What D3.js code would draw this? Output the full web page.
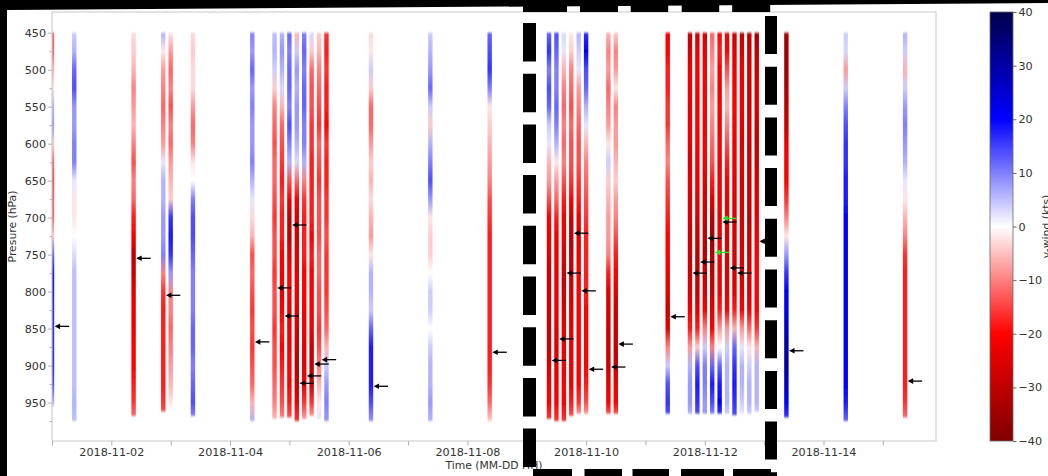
<!DOCTYPE html>
<html>
<head>
<meta charset="utf-8">
<script src="https://cdn.jsdelivr.net/npm/d3@7"></script>
<style>
  body { margin: 0; background: #000; }
  svg { display: block; font-family: "DejaVu Sans", sans-serif; }
</style>
</head>
<body>
<svg id="fig" width="1048" height="476"></svg>
<script>
// ---- data ----
const pressureLevels = [450, 475, 500, 525, 550, 575, 600, 625, 650, 675, 700, 725, 750, 775, 800, 825, 850, 875, 900, 925, 950, 975];

const soundingTime = [
  "2018-11-01T00:00Z", "2018-11-01T09:00Z", "2018-11-02T09:00Z", "2018-11-02T21:00Z", "2018-11-03T00:00Z",
  "2018-11-03T09:00Z", "2018-11-04T09:00Z",
  "2018-11-04T18:00Z", "2018-11-04T21:00Z", "2018-11-05T00:00Z", "2018-11-05T03:00Z", "2018-11-05T06:00Z",
  "2018-11-05T09:00Z", "2018-11-05T12:00Z", "2018-11-05T15:00Z",
  "2018-11-06T09:00Z", "2018-11-07T09:00Z", "2018-11-08T09:00Z",
  "2018-11-09T09:00Z", "2018-11-09T12:00Z", "2018-11-09T15:00Z", "2018-11-09T18:00Z", "2018-11-09T21:00Z",
  "2018-11-10T00:00Z", "2018-11-10T09:00Z", "2018-11-10T12:00Z",
  "2018-11-11T09:00Z", "2018-11-11T18:00Z", "2018-11-11T21:00Z", "2018-11-12T00:00Z", "2018-11-12T03:00Z",
  "2018-11-12T06:00Z", "2018-11-12T09:00Z", "2018-11-12T12:00Z", "2018-11-12T15:00Z", "2018-11-12T18:00Z",
  "2018-11-12T21:00Z",
  "2018-11-13T09:00Z", "2018-11-14T09:00Z", "2018-11-15T09:00Z"
];

// lowest pressure level reached by each sounding (hPa)
const soundingBottom = [955, 975, 968, 962, 960, 968, 975, 972, 970, 970, 975, 972, 968, 972, 975,
  975, 975, 975, 972, 975, 975, 968, 965, 965, 965, 965,
  965, 965, 965, 965, 965, 965, 965, 967, 965, 965, 962, 970, 975, 970];

// v-wind (kts) at each pressure level, one row per sounding
const vWind = [
  [-12, -12, -6, -2, 6, 8, -4, -12, -14, -12, -12, -4, 12, 18, 18, 16, 16, 16, 16, 14, 6, 4],
  [4, 6, 12, 14, 8, 8, 10, 10, 2, -2, -2, 0, 3, 5, 5, 5, 5, 5, 5, 5, 6, 5],
  [-3, -4, -6, -10, -8, -6, -10, -14, -10, -12, -18, -20, -30, -28, -24, -22, -22, -20, -20, -18, -16, -12],
  [6, -2, -8, -10, -12, -10, -8, 2, 6, 6, 8, 8, 10, -10, -16, -18, -18, -18, -18, -18, -16, -14],
  [-2, -8, -12, -10, -14, -10, -12, -8, -6, -4, 16, 18, 16, 8, -10, -10, -12, -10, -8, -6, -2, 0],
  [-3, -4, -3, -3, -8, -12, -10, -2, 0, 10, 14, 14, 12, 10, 10, 10, 12, 12, 10, 12, 14, 10],
  [10, 8, 12, 8, 10, 8, 8, 10, 6, 2, -3, -6, -14, -12, -14, -16, -14, -16, -14, -12, -6, 6],
  [5, 6, 4, -4, -10, -12, -14, -12, -12, -14, -16, -14, -14, -16, -14, -14, -16, -14, -14, -12, -10, -6],
  [6, 8, 6, 3, -6, -12, -14, -16, -18, -16, -18, -18, -20, -22, -24, -20, -18, -20, -18, -16, -14, -10],
  [12, 10, 12, 12, 10, 14, 10, 6, -14, -22, -30, -30, -24, -20, -20, -24, -22, -22, -20, -20, -18, -14],
  [-6, 4, 8, 6, 8, 8, 6, 3, -12, -20, -24, -26, -24, -24, -22, -24, -26, -28, -30, -28, -22, -16],
  [10, 12, 10, 12, 12, 10, 10, 6, -10, -16, -18, -18, -18, -20, -20, -22, -22, -24, -24, -22, -16, -8],
  [3, -4, -12, -14, -14, -16, -16, -18, -18, -18, -18, -20, -18, -20, -20, -20, -22, -28, -30, -28, -16, -8],
  [-4, -6, -10, -12, -14, -16, -12, -14, -16, -14, -14, -14, -12, -12, -14, -14, -16, -14, -10, -6, -2, 2],
  [-16, -18, -16, -18, -18, -20, -16, -18, -18, -16, -16, -14, -16, -16, -16, -14, -12, -6, 4, 8, 10, 8],
  [-3, -2, 4, -4, -12, -12, -8, -4, -6, -3, -6, -8, -2, 6, 6, 4, 12, 18, 18, 18, 14, 8],
  [4, 6, 8, 12, 4, -4, 6, 10, 14, 8, -2, -4, -4, 0, 4, 4, 0, 4, 6, 6, 8, 6],
  [12, 14, 16, 10, -2, -4, -6, -8, -10, -14, -16, -18, -18, -18, -18, -18, -18, -18, -18, -16, -12, -4],
  [12, 16, 10, 14, 12, 4, 2, -6, -8, -14, -20, -22, -24, -28, -28, -28, -28, -28, -26, -22, -20, -16],
  [14, 12, 10, 10, 12, 10, 6, -2, -8, -12, -18, -22, -22, -22, -22, -22, -24, -24, -24, -22, -20, -16],
  [3, 2, -6, -10, -12, -10, -12, -10, -14, -18, -22, -22, -26, -28, -28, -26, -24, -22, -22, -20, -20, -16],
  [-2, -4, -10, -12, -14, -12, -14, -14, -16, -20, -28, -30, -30, -28, -26, -24, -24, -22, -22, -22, -18, -14],
  [6, 4, 2, -8, -10, -12, -14, -14, -16, -18, -22, -24, -22, -20, -20, -20, -20, -20, -20, -20, -16, -8],
  [16, 20, 14, 12, 6, 2, -6, -10, -12, -14, -16, -18, -18, -18, -18, -20, -20, -20, -20, -18, -14, -8],
  [-6, -10, -8, -12, -10, -8, -2, 4, -4, -6, -8, -8, -10, -18, -24, -26, -28, -28, -28, -24, -20, -14],
  [-4, -10, -8, -2, -10, -8, -8, -6, -4, -8, -10, -14, -18, -20, -24, -28, -28, -30, -28, -22, -20, -14],
  [-20, -20, -18, -18, -16, -16, -12, -10, -14, -16, -18, -20, -20, -22, -24, -28, -24, -10, 4, 14, 16, 14],
  [-30, -26, -22, -22, -24, -22, -24, -26, -24, -26, -26, -28, -28, -28, -26, -22, -18, -8, 6, 8, 8, 6],
  [-28, -22, -20, -20, -22, -20, -20, -22, -22, -24, -26, -28, -30, -30, -28, -24, -18, -4, 14, 18, 16, 14],
  [-26, -22, -20, -20, -20, -22, -20, -20, -24, -26, -28, -30, -30, -28, -26, -20, -10, 4, 10, 10, 8, 8],
  [-12, -10, -8, -10, -8, -10, -12, -14, -18, -24, -30, -34, -32, -30, -28, -24, -20, -10, 12, 18, 14, 10],
  [-20, -18, -20, -22, -20, -22, -20, -22, -22, -22, -24, -22, -22, -22, -22, -18, -8, 0, 12, 18, 20, 16],
  [-22, -20, -14, -8, -6, -10, -14, -18, -20, -22, -24, -26, -26, -26, -24, -20, -8, 4, 6, 6, 6, 4],
  [-28, -24, -22, -20, -20, -20, -22, -22, -24, -24, -24, -26, -26, -26, -24, -18, -6, 12, 16, 18, 16, 14],
  [-30, -26, -22, -22, -22, -24, -26, -24, -26, -26, -26, -26, -26, -26, -24, -20, -8, 2, 6, 6, 4, 2],
  [-30, -28, -26, -28, -28, -26, -28, -28, -28, -28, -30, -28, -28, -26, -26, -22, -12, -2, 4, 6, 6, 4],
  [-34, -30, -28, -26, -26, -28, -30, -28, -26, -24, -24, -22, -20, -20, -20, -20, -16, -6, 6, 6, 6, 4],
  [-34, -34, -34, -32, -30, -28, -22, -20, -20, -16, -10, -2, 8, 16, 20, 22, 26, 30, 30, 26, 20, 16],
  [4, 3, -8, 4, 10, 14, 16, 16, 18, 18, 20, 20, 22, 22, 22, 22, 22, 22, 20, 20, 18, 12],
  [6, 4, -6, 4, 8, 10, 8, 6, 2, -2, -6, -10, -16, -18, -18, -18, -18, -18, -18, -18, -16, -12]
];

// black arrow marks: sounding index and pressure (hPa)
const arrowSounding = [0, 2, 3, 6, 7, 8, 9, 10, 11, 12, 13, 15, 17, 18, 19, 20, 21, 22, 23, 24, 25,
  26, 27, 28, 29, 31, 32, 33, 36, 37, 39];
const arrowPressure = [847, 755, 805, 868, 795, 833, 710, 924, 914, 898, 892, 928, 882, 893, 864, 775, 721, 799, 905, 902, 871,
  834, 775, 760, 728, 706, 768, 775, 732, 880, 921];
// green arrow marks
const greenSounding = [30, 31];
const greenPressure = [747, 701];

const pressureTicks = [450, 500, 550, 600, 650, 700, 750, 800, 850, 900, 950];
const pressureMinor = [475, 525, 575, 625, 675, 725, 775, 825, 875, 925, 975];
const colorTicks = [-40, -30, -20, -10, 0, 10, 20, 30, 40];

// ---- layout ----
const W = 1048, H = 476;
const ax = {left: 52, right: 936, top: 12, bottom: 441};
const cb = {left: 990, right: 1013, top: 12, bottom: 441};

const svg = d3.select("#fig");
const defs = svg.append("defs");

svg.append("rect").attr("width", W).attr("height", H).attr("fill", "#000");
svg.append("path").attr("d", "M7,10 L1048,3 L1048,476 L7,476 Z").attr("fill", "#fff");

const x = d3.scaleUtc()
  .domain([new Date("2018-11-01T00:00Z"), new Date("2018-11-15T21:30Z")])
  .range([ax.left, ax.right]);
const y = d3.scaleLinear().domain([422, 1002]).range([ax.top, ax.bottom]);

// seismic_r
const cmap = d3.scaleLinear()
  .domain([40, 20, 0, -20, -40])
  .range(["#00004c", "#0000ff", "#ffffff", "#ff0000", "#7f0000"])
  .clamp(true);

defs.append("clipPath").attr("id", "axclip")
  .append("rect")
  .attr("x", ax.left).attr("y", ax.top)
  .attr("width", ax.right - ax.left).attr("height", ax.bottom - ax.top);

defs.append("filter").attr("id", "soft")
  .attr("x", "-50%").attr("y", "-5%").attr("width", "200%").attr("height", "110%")
  .append("feGaussianBlur").attr("stdDeviation", "0.7 0.9");

// ---- strips ----
const stripW = 4.4;
const soundings = soundingTime.map((t, i) => ({
  t: new Date(t), bottom: soundingBottom[i], v: vWind[i], i
}));

soundings.forEach(s => {
  const g = defs.append("linearGradient")
    .attr("id", "grad" + s.i)
    .attr("x1", 0).attr("x2", 0).attr("y1", 0).attr("y2", 1);
  pressureLevels.forEach((p, k) => {
    const off = Math.min(1, (p - 450) / (s.bottom - 450));
    g.append("stop").attr("offset", off).attr("stop-color", cmap(s.v[k]));
  });
});

svg.append("g")
  .attr("clip-path", "url(#axclip)")
  .append("g")
  .attr("filter", "url(#soft)")
  .selectAll("rect")
  .data(soundings)
  .join("rect")
    .attr("x", d => x(d.t) - stripW / 2)
    .attr("y", y(450))
    .attr("width", stripW)
    .attr("height", d => y(d.bottom) - y(450))
    .attr("fill", d => `url(#grad${d.i})`);

// ---- arrows ----
function drawArrows(idx, pres, color) {
  const gA = svg.append("g");
  idx.forEach((si, k) => {
    const tipX = x(soundings[si].t) + 2.6;
    const yy = y(pres[k]);
    gA.append("line")
      .attr("x1", tipX + 3).attr("x2", tipX + 14.5)
      .attr("y1", yy).attr("y2", yy)
      .attr("stroke", color).attr("stroke-width", 1.3);
    gA.append("path")
      .attr("d", `M${tipX},${yy} L${tipX + 5.5},${yy - 2.8} L${tipX + 5.5},${yy + 2.8} Z`)
      .attr("fill", color);
  });
}
drawArrows(arrowSounding, arrowPressure, "#000");
drawArrows(greenSounding, greenPressure, "#22e822");

// ---- axes ----
const tickCol = "#b0b0b0", textCol = "#333", fs = "11.2px";

svg.append("rect")
  .attr("x", ax.left).attr("y", ax.top)
  .attr("width", ax.right - ax.left).attr("height", ax.bottom - ax.top)
  .attr("fill", "none").attr("stroke", "#c8c8c8").attr("stroke-width", 1);

const yAx = svg.append("g").attr("transform", `translate(${ax.left},0)`)
  .call(d3.axisLeft(y).tickValues(pressureTicks).tickSize(4).tickPadding(2));
svg.append("g").attr("transform", `translate(${ax.left},0)`)
  .call(d3.axisLeft(y).tickValues(pressureMinor).tickSize(2.5).tickFormat(""))
  .call(g => g.select(".domain").remove())
  .selectAll("line").attr("stroke", tickCol);

const days = d3.utcDay.range(new Date("2018-11-01T00:00Z"), new Date("2018-11-16T00:00Z"));
const fmt = d3.utcFormat("%Y-%m-%d");
const xAx = svg.append("g").attr("transform", `translate(0,${ax.bottom})`)
  .call(d3.axisBottom(x).tickValues(days).tickSize(4.5).tickPadding(3)
    .tickFormat(d => d.getUTCDate() % 2 === 0 ? fmt(d) : ""));

[yAx, xAx].forEach(g => {
  g.select(".domain").remove();
  g.selectAll("line").attr("stroke", tickCol);
  g.selectAll("text").attr("fill", textCol).style("font-size", fs).style("font-family", "DejaVu Sans");
});

svg.append("text")
  .attr("transform", `translate(16,${(ax.top + ax.bottom) / 2}) rotate(-90)`)
  .attr("text-anchor", "middle")
  .attr("fill", textCol).style("font-size", "10.8px")
  .text("Presure (hPa)");

svg.append("text")
  .attr("x", (ax.left + ax.right) / 2).attr("y", 469)
  .attr("text-anchor", "middle")
  .attr("fill", textCol).style("font-size", "10.8px")
  .text("Time (MM-DD HH)");

// ---- colorbar ----
const cy = d3.scaleLinear().domain([-40, 40]).range([cb.bottom, cb.top]);
const cg = defs.append("linearGradient").attr("id", "cbar")
  .attr("x1", 0).attr("x2", 0).attr("y1", 1).attr("y2", 0);
[-40, -20, 0, 20, 40].forEach(v => {
  cg.append("stop").attr("offset", (v + 40) / 80).attr("stop-color", cmap(v));
});
svg.append("rect")
  .attr("x", cb.left).attr("y", cb.top)
  .attr("width", cb.right - cb.left).attr("height", cb.bottom - cb.top)
  .attr("fill", "url(#cbar)")
  .attr("stroke", "#666").attr("stroke-width", 0.8);

const cAx = svg.append("g").attr("transform", `translate(${cb.right},0)`)
  .call(d3.axisRight(cy).tickValues(colorTicks).tickSize(3.5).tickPadding(2));
cAx.select(".domain").remove();
cAx.selectAll("line").attr("stroke", "#666");
cAx.selectAll("text").attr("fill", textCol).style("font-size", fs).style("font-family", "DejaVu Sans");

svg.append("text")
  .attr("transform", `translate(1050,${(cb.top + cb.bottom) / 2}) rotate(-90)`)
  .attr("text-anchor", "middle")
  .attr("fill", textCol).style("font-size", "10.8px")
  .text("v-wind (kts)");

// ---- dashed highlight box ----
const box = svg.append("g").attr("stroke", "#000").attr("fill", "none");
box.append("line").attr("x1", 529.5).attr("x2", 529.5).attr("y1", 23).attr("y2", 476)
  .attr("stroke-width", 13).attr("stroke-dasharray", "38.5 12.2");
box.append("line").attr("x1", 771).attr("x2", 771).attr("y1", 16).attr("y2", 476)
  .attr("stroke-width", 12).attr("stroke-dasharray", "38 12.7");
box.append("line").attr("x1", 523).attr("x2", 777).attr("y1", 8).attr("y2", 8)
  .attr("stroke-width", 8).attr("stroke-dasharray", "44 13 38 12.7 37.5 13.5 37.5 13 38 12.7");
box.append("line").attr("x1", 533).attr("x2", 777).attr("y1", 473).attr("y2", 473)
  .attr("stroke-width", 8).attr("stroke-dasharray", "39 12.5 37.5 10.5 36.5 12 43 9 38 12");
</script>
</body>
</html>
